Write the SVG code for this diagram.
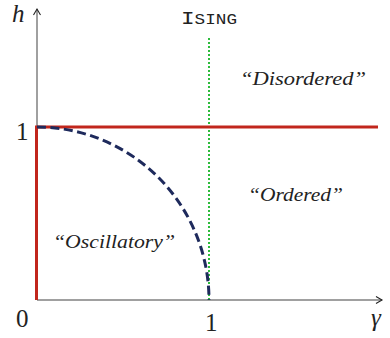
<svg xmlns="http://www.w3.org/2000/svg" width="390" height="338" viewBox="0 0 390 338">
<style>
.axis{stroke:#808080;stroke-width:1.5;fill:none}
.red{stroke:#c1261c;stroke-width:3;fill:none}
.arc{stroke:#1e2a5c;stroke-width:3;fill:none;stroke-dasharray:9 4.5}
.ising{stroke:#2dbb3c;stroke-width:2;fill:none;stroke-dasharray:2 2}
.num{font-family:'Liberation Serif','Times New Roman',Times,serif;font-size:25px;fill:#222}
.var{font-family:'Liberation Serif','Times New Roman',Times,serif;font-style:italic;font-size:25px;fill:#222}
.lbl{font-family:'Liberation Serif','Times New Roman',Times,serif;font-style:italic;font-size:19px;fill:#222}
.tt{font-family:'Liberation Mono','Courier New',monospace;fill:#222}
</style>
<defs>
<marker id="arr" markerWidth="10" markerHeight="10" refX="7" refY="4" orient="auto" markerUnits="userSpaceOnUse">
<path d="M1,0.5 L7,4 L1,7.5" fill="none" stroke="#222" stroke-width="1.1"/>
</marker>
</defs>
<g id="connectors">
<line class="axis" x1="37" y1="300" x2="37" y2="9" marker-end="url(#arr)"/>
<line class="axis" x1="37" y1="300" x2="382" y2="300" marker-end="url(#arr)"/>
<line class="ising" x1="209" y1="38" x2="209" y2="300"/>
<path class="red" d="M36.5,300 L36.5,127 L378,127"/>
<path class="arc" d="M37,127 A172,173 0 0 1 209,300"/>
</g>
<g id="axis-labels">
<text class="var" x="12" y="22">h</text>
<text class="num" x="16" y="140">1</text>
<text class="num" x="16" y="327">0</text>
<text class="num" x="205" y="331">1</text>
<text class="var" x="371" y="326">γ</text>
</g>
<g id="ising">
<text class="tt" x="181" y="24" textLength="56" lengthAdjust="spacingAndGlyphs"><tspan font-size="18">I</tspan><tspan font-size="14">SING</tspan></text>
</g>
<g id="disordered">
<text class="lbl" x="240" y="85" textLength="126" lengthAdjust="spacingAndGlyphs">“Disordered”</text>
</g>
<g id="ordered">
<text class="lbl" x="248" y="201" textLength="95" lengthAdjust="spacingAndGlyphs">“Ordered”</text>
</g>
<g id="oscillatory">
<text class="lbl" x="53" y="248" textLength="122" lengthAdjust="spacingAndGlyphs">“Oscillatory”</text>
</g>
</svg>
